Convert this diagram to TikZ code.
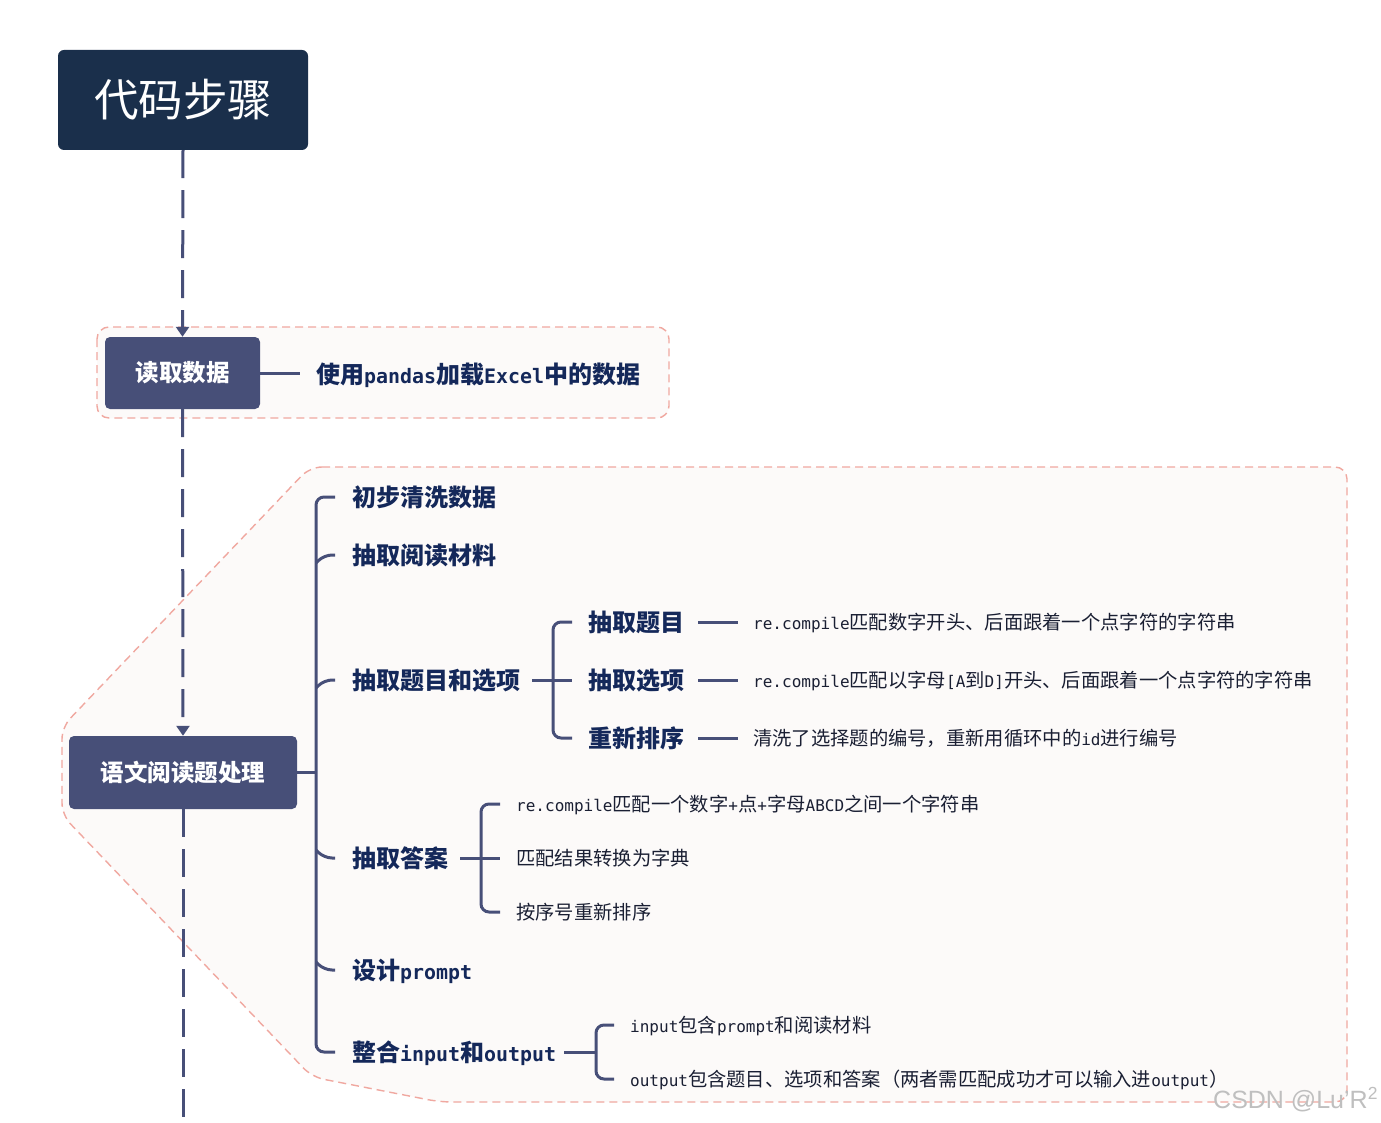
\documentclass[tikz,border=0pt]{standalone}
\usepackage{fontspec}
\setmainfont{Noto Sans CJK SC}
\newfontfamily\wmfont{Liberation Sans}
\newfontfamily\hwfont{DejaVu Sans Mono}[Scale=0.83]
\newcommand\hw[1]{{\hwfont #1}}
\usetikzlibrary{arrows.meta}
\definecolor{navy}{HTML}{1A2F4B}
\definecolor{slate}{HTML}{474F78}
\definecolor{ink}{HTML}{14285A}
\definecolor{bodyc}{HTML}{1A1F33}
\definecolor{pinkc}{HTML}{F0A8A0}
\definecolor{bgc}{HTML}{FCFAF9}
\tikzset{
  titlebox/.style={fill=navy, rounded corners=6pt, text=white, minimum width=250pt, minimum height=100pt, font=\fontsize{44.5}{44.5}\selectfont},
  mainbox/.style={fill=slate, rounded corners=5pt, text=white, minimum height=72pt, font=\bfseries\fontsize{23.5}{23.5}\selectfont},
  dashline/.style={draw=slate, line width=3pt, dash pattern=on 28pt off 12pt},
  arrowtip/.style={-{Triangle[width=13pt,length=10pt]}},
  tree/.style={draw=slate, line width=3pt, rounded corners=8pt},
  stub/.style={draw=slate, line width=3pt},
  region/.style={draw=pinkc, fill=bgc, line width=1.4pt, dash pattern=on 8pt off 5pt, rounded corners=12pt},
  lvone/.style={anchor=west, inner sep=0pt, text=ink, font=\bfseries\fontsize{24}{24}\selectfont, text height=19pt, text depth=0pt},
  lvtwo/.style={anchor=west, inner sep=0pt, text=ink, font=\bfseries\fontsize{24}{24}\selectfont, text height=19.5pt, text depth=0pt},
  leaf/.style={anchor=west, inner sep=0pt, text=bodyc, font=\fontsize{19.3}{19.3}\selectfont, text height=15.2pt, text depth=0pt},
}
\begin{document}
\begin{tikzpicture}[x=1pt,y=-1pt]
\useasboundingbox (0,0) rectangle (1381,1123);
\fill[white] (0,0) rectangle (1381,1123);

% regions
\path[region] (97,327) rectangle (669,418);
\path[region] (310,467) -- (1347,467) -- (1347,1102) -- (440,1102) -- (312,1077) -- (62,815) -- (62,727) -- cycle;

% main boxes
\node[titlebox] (title) at (183,100) {代码步骤};
\node[mainbox, minimum width=155pt] (b1) at (182.5,373) {\raisebox{-1.5pt}{读取数据}};
\node[mainbox, minimum width=228pt, minimum height=73pt] (b2) at (183,772.5) {\raisebox{-1.5pt}{语文阅读题处理}};
\coordinate (bottom) at (183,1123);

\draw[dashline, arrowtip] (title.south) -- (b1.north);
\draw[dashline, arrowtip] (b1.south) -- (b2.north);
\draw[dashline] (b2.south) -- (bottom);

% section 1
\node[lvone] (r1) at (316,374) {使用\hw{pandas}加载\hw{Excel}中的数据};
\draw[stub] (b1.east) -- ([xshift=-16pt]r1.west |- b1.east);

% level one items
\node[lvone] (i1) at (352,497) {初步清洗数据};
\node[lvone] (i2) at (352,555) {抽取阅读材料};
\node[lvone] (i3) at (352,680) {抽取题目和选项};
\node[lvone] (i4) at (352,858) {抽取答案};
\node[lvone] (i5) at (352,970) {设计\hw{prompt}};
\node[lvone] (i6) at (352,1052) {整合\hw{input}和\hw{output}};
\coordinate (spine) at ([xshift=-36pt]i1.west);

\draw[tree] ([xshift=-17pt]i1.west) -- ([xshift=-36pt]i1.west) -- ([xshift=-36pt]i6.west) -- ([xshift=-17pt]i6.west);
\foreach \n in {i2,i3} {
  \draw[tree] ([xshift=-17pt]\n.west) -- ([xshift=-28pt]\n.west) -- ([xshift=-36pt,yshift=-8pt]\n.west);
}
\foreach \n in {i4,i5} {
  \draw[tree] ([xshift=-17pt]\n.west) -- ([xshift=-28pt]\n.west) -- ([xshift=-36pt,yshift=8pt]\n.west);
}
\draw[stub] (b2.east) -- (b2.east -| spine);

% sub-bracket: 抽取题目和选项
\node[lvtwo] (s1) at (588,622) {抽取题目};
\node[lvtwo] (s2) at (588,680) {抽取选项};
\node[lvtwo] (s3) at (588,738) {重新排序};
\draw[stub] ([xshift=12pt]i3.east) -- ([xshift=-35pt]s2.west);
\draw[tree] ([xshift=-16pt]s1.west) -- ([xshift=-35pt]s1.west) -- ([xshift=-35pt]s3.west) -- ([xshift=-16pt]s3.west);
\draw[stub] ([xshift=-35pt]s2.west) -- ([xshift=-16pt]s2.west);

\node[leaf] (d1) at (753,622) {\hw{re.compile}匹配数字开头、后面跟着一个点字符的字符串};
\node[leaf] (d2) at (753,680) {\hw{re.compile}匹配以字母\hw{[A}到\hw{D]}开头、后面跟着一个点字符的字符串};
\node[leaf] (d3) at (753,738) {清洗了选择题的编号，重新用循环中的\hw{id}进行编号};
\draw[stub] ([xshift=14pt]s1.east) -- ([xshift=-15pt]d1.west);
\draw[stub] ([xshift=14pt]s2.east) -- ([xshift=-15pt]d2.west);
\draw[stub] ([xshift=14pt]s3.east) -- ([xshift=-15pt]d3.west);

% sub-bracket: 抽取答案
\node[leaf] (a1) at (516,804) {\hw{re.compile}匹配一个数字\hw{+}点\hw{+}字母\hw{ABCD}之间一个字符串};
\node[leaf] (a2) at (516,858) {匹配结果转换为字典};
\node[leaf] (a3) at (516,912) {按序号重新排序};
\draw[stub] ([xshift=12pt]i4.east) -- ([xshift=-35pt]a2.west);
\draw[tree] ([xshift=-16pt]a1.west) -- ([xshift=-35pt]a1.west) -- ([xshift=-35pt]a3.west) -- ([xshift=-16pt]a3.west);
\draw[stub] ([xshift=-35pt]a2.west) -- ([xshift=-16pt]a2.west);

% sub-bracket: 整合input和output
\node[leaf] (o1) at (630,1025) {\hw{input}包含\hw{prompt}和阅读材料};
\node[leaf] (o2) at (630,1079) {\hw{output}包含题目、选项和答案（两者需匹配成功才可以输入进\hw{output}）};
\coordinate (ojoin) at ([xshift=-34pt]o1.west |- i6.east);
\draw[stub] ([xshift=8pt]i6.east) -- (ojoin);
\draw[tree] ([xshift=-16pt]o1.west) -- ([xshift=-34pt]o1.west) -- ([xshift=-34pt]o2.west) -- ([xshift=-16pt]o2.west);

% watermark
\node[anchor=west, inner sep=0pt, text=black!25, font=\wmfont\fontsize{25}{25}\selectfont] (wm) at (1213,1100) {CSDN @Lu’R\textsuperscript{2}};
\end{tikzpicture}
\end{document}
